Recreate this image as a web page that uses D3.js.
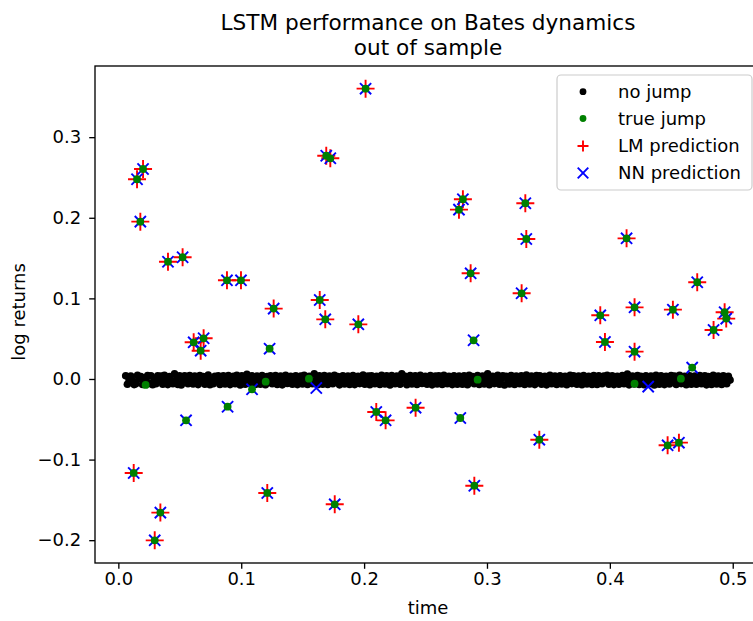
<!DOCTYPE html>
<html>
<head>
<meta charset="utf-8">
<script src="https://cdn.jsdelivr.net/npm/d3@7"></script>
<style>
  html, body { margin: 0; padding: 0; background: #fff; overflow: hidden; }
  svg { display: block; font-family: "DejaVu Sans", sans-serif; }
</style>
</head>
<body>
<svg id="chart" width="753" height="621"></svg>
<script>
// ---------------- data ----------------
const title = ["LSTM performance on Bates dynamics", "out of sample"];
const xLabel = "time";
const yLabel = "log returns";
const xTicks = [0.0, 0.1, 0.2, 0.3, 0.4, 0.5];
const yTicks = [-0.2, -0.1, 0.0, 0.1, 0.2, 0.3];
const legendLabels = ["no jump", "true jump", "LM prediction", "NN prediction"];

// no-jump observations on the time grid
const noJumpStart = 0.006;
const noJumpStep = 0.00137;
const noJumpValues = [
  .004,-.0065,-.001,.0035,-.0015,-.007,-.006,.0045,.000,.003,-.0068,-.002,-.0005,.0042,-.0055,.0038,-.0072,-.001,-.006,.004,
  -.0015,.0035,-.0065,.0045,-.0005,-.007,.003,-.002,-.0058,.0065,-.001,-.0068,.004,-.0075,-.0015,.0038,.000,-.006,.0042,-.002,
  -.0062,.0036,-.001,-.007,.0044,-.0018,.003,-.0066,-.0005,.0048,-.0072,-.0012,-.0058,.0034,-.002,.004,-.0068,.0005,.0038,-.0063,
  -.0015,.0042,-.007,-.0008,.0032,-.006,.0046,-.0022,-.0074,.0038,-.001,-.0065,.0058,-.0016,-.0057,.004,-.0004,-.0069,.0035,-.0019,
  -.0064,.0044,-.0011,-.0071,.0031,-.0017,.0039,-.006,-.0006,.0043,-.0067,-.0021,.0036,-.0073,-.0009,.0047,-.0056,-.0014,.0033,-.0066,
  -.0003,.0041,-.007,-.0018,.0037,-.0062,.0045,-.0008,-.0068,.0032,-.0024,-.0059,.0065,-.0013,-.0071,.0039,-.0006,-.0064,.0043,-.0016,
  -.0069,.0035,-.0002,-.0058,.0046,-.0019,.0031,-.0073,-.001,.004,-.0061,-.0015,.0037,-.0067,-.0007,.0044,-.007,-.0022,.0034,-.0057,
  -.0012,.0048,-.0065,-.0004,.0036,-.0072,.0041,-.0017,-.006,.0033,-.0009,-.0068,.0045,-.002,-.0063,.0038,-.0001,-.0074,.0042,-.0014,
  -.0059,.0037,-.0016,-.0066,.0063,-.0006,.0034,-.0071,-.0019,.0043,-.0062,-.0003,.0039,-.0069,-.0013,.0046,-.0056,-.0021,.0032,-.0065,
  -.0008,.0044,-.0073,-.0015,.0035,-.0061,.004,-.0002,-.0067,.0047,-.0018,-.0058,.0033,-.0011,-.007,.0041,-.0005,-.0064,.0036,-.0023,
  -.0066,.0038,-.0009,-.0072,.0045,-.0014,.0031,-.006,-.0004,.0042,-.0068,-.002,.0037,-.0063,-.0007,.0064,-.0071,-.0016,.0034,-.0057,
  -.0013,.0046,-.0065,-.0001,.0039,-.0074,.0033,-.0019,-.0061,.0044,-.001,-.0069,.0036,-.0022,-.0058,.0041,-.0006,-.0067,.0048,-.0012,
  -.0063,.0035,-.0017,-.007,.0043,-.0005,.0038,-.0066,-.0014,.0032,-.0073,-.0008,.0045,-.006,-.002,.0037,-.0068,-.0003,.004,-.0062,
  -.0011,.0034,-.0071,-.0018,.0047,-.0057,.0039,-.0007,-.0065,.0036,-.0015,-.0072,.0042,-.0009,-.0061,.0033,-.0021,-.0069,.0044,-.0004,
  -.0067,.0041,-.0012,-.0059,.0035,-.0024,.0046,-.0064,-.0002,.0038,-.007,-.0016,.0033,-.0066,-.0006,.0043,-.0058,-.0019,.0062,-.0073,
  -.0009,.0037,-.0062,-.0014,.0044,-.0068,.0032,-.0003,-.0071,.004,-.002,-.006,.0036,-.0008,-.0074,.0045,-.0013,-.0065,.0039,-.0017,
  -.007,.0033,-.0005,-.0063,.0042,-.0011,.0037,-.0069,-.0018,.0046,-.0057,-.0007,.0034,-.0072,-.0015,.004,-.0064,-.0001,.0035,-.0066,
  -.0016,.0043,-.006,-.001,.0038,-.0073,.0031,-.0021,-.0067,.0045,-.0004,-.0062,.0036,-.0012,-.0069,.0041,-.0008,-.0058,.0034,-.0014
];

// true jumps
const trueJumpTime = [0.0125,0.0152,0.0179,0.0201,0.0222,0.0296,0.0342,0.0404,0.0523,0.0551,
  0.0613,0.0670,0.0694,0.0884,0.0889,0.0998,0.1088,0.1199,0.1212,0.1231,
  0.1264,0.1551,0.1639,0.1684,0.1692,0.1725,0.1761,0.1953,0.2012,0.2099,
  0.2175,0.2419,0.2772,0.2783,0.2804,0.2867,0.2891,0.2897,0.2924,0.3282,
  0.3312,0.3320,0.3426,0.3922,0.3960,0.4136,0.4201,0.4201,0.4201,0.4470,
  0.4513,0.4562,0.4578,0.4670,0.4711,0.4844,0.4934,0.4947];
const trueJumpValue = [-0.1166,0.2478,0.1952,0.2605,-0.0074,-0.2002,-0.1658,0.1455,0.1510,-0.0513,
  0.0455,0.0351,0.0505,0.1224,-0.0344,0.1224,-0.0128,-0.0033,-0.1414,0.0376,
  0.0873,0.0004,0.0980,0.0740,0.2770,0.2738,-0.1555,0.0678,0.3602,-0.0409,
  -0.0513,-0.0356,0.2101,-0.0484,0.2230,0.1311,0.0480,-0.1324,-0.0008,0.1063,
  0.2180,0.1737,-0.0753,0.0790,0.0459,0.1745,0.0889,0.0339,-0.0058,-0.0823,
  0.0860,-0.0790,0.0004,0.0141,0.1200,0.0608,0.0828,0.0749];

// LM predictions
const lmTime = [0.0125,0.0152,0.0179,0.0201,0.0296,0.0342,0.0404,0.0523,
  0.0613,0.0670,0.0694,0.0884,0.0998,0.1212,0.1264,0.1639,0.1684,0.1692,0.1725,0.1761,
  0.1953,0.2012,0.2099,0.2175,0.2419,0.2772,0.2804,0.2867,0.2897,0.3282,
  0.3312,0.3320,0.3426,0.3922,0.3960,0.4136,0.4201,0.4201,0.4470,0.4513,
  0.4562,0.4711,0.4844,0.4934,0.4947];
const lmValue = [-0.1166,0.2478,0.1952,0.2605,-0.2002,-0.1658,0.1455,0.1510,
  0.0455,0.0351,0.0505,0.1224,0.1224,-0.1414,0.0873,0.0980,0.0740,0.2770,0.2738,-0.1555,
  0.0678,0.3602,-0.0409,-0.0513,-0.0356,0.2101,0.2230,0.1311,-0.1324,0.1063,
  0.2180,0.1737,-0.0753,0.0790,0.0459,0.1745,0.0889,0.0339,-0.0823,0.0860,
  -0.0790,0.1200,0.0608,0.0828,0.0749];

// NN predictions
const nnTime = [0.0125,0.0152,0.0179,0.0201,0.0296,0.0342,0.0404,0.0523,0.0551,
  0.0613,0.0670,0.0694,0.0884,0.0889,0.0998,0.1088,0.1212,0.1231,0.1264,0.1611,
  0.1639,0.1684,0.1692,0.1725,0.1761,0.1953,0.2012,0.2099,0.2175,0.2419,
  0.2772,0.2783,0.2804,0.2867,0.2891,0.2897,0.3282,0.3312,0.3320,0.3426,
  0.3922,0.3960,0.4136,0.4201,0.4201,0.4312,0.4470,0.4513,0.4562,0.4670,
  0.4711,0.4844,0.4934,0.4947];
const nnValue = [-0.1166,0.2478,0.1952,0.2605,-0.2002,-0.1658,0.1455,0.1510,-0.0513,
  0.0455,0.0351,0.0505,0.1224,-0.0344,0.1224,-0.0128,-0.1414,0.0376,0.0873,-0.0112,
  0.0980,0.0740,0.2770,0.2738,-0.1555,0.0678,0.3602,-0.0409,-0.0513,-0.0356,
  0.2101,-0.0484,0.2230,0.1311,0.0480,-0.1324,0.1063,0.2180,0.1737,-0.0753,
  0.0790,0.0459,0.1745,0.0889,0.0339,-0.0095,-0.0823,0.0860,-0.0790,0.0141,
  0.1200,0.0608,0.0828,0.0749];

// ---------------- drawing ----------------
const svg = d3.select("#chart");
const plot = {left: 95, right: 761, top: 66, bottom: 563};
const FONT = 18;

const x = d3.scaleLinear().domain([-0.019, 0.523]).range([plot.left, plot.right]);
const y = d3.scaleLinear().domain([-0.2283, 0.3883]).range([plot.bottom, plot.top]);

// title
svg.append("text").attr("x", 428).attr("y", 30).attr("text-anchor", "middle")
  .attr("font-size", 21.6).text(title[0]);
svg.append("text").attr("x", 428).attr("y", 55).attr("text-anchor", "middle")
  .attr("font-size", 21.6).text(title[1]);

// axes
const fmt = d3.format(".1f");
const xAxis = svg.append("g").attr("transform", `translate(0,${plot.bottom})`)
  .call(d3.axisBottom(x).tickValues(xTicks).tickFormat(fmt).tickSize(5.8).tickPadding(3.5));
const yAxis = svg.append("g").attr("transform", `translate(${plot.left},0)`)
  .call(d3.axisLeft(y).tickValues(yTicks).tickFormat(fmt).tickSize(5.8).tickPadding(8));
[xAxis, yAxis].forEach(a => {
  a.select(".domain").remove();
  a.selectAll(".tick line").attr("stroke", "#000").attr("stroke-width", 1.33);
  a.selectAll(".tick text").attr("font-size", FONT).attr("font-family", "DejaVu Sans").attr("fill", "#000");
});

svg.append("text").attr("x", 428).attr("y", 614).attr("text-anchor", "middle")
  .attr("font-size", FONT).text(xLabel);
svg.append("text").attr("transform", "translate(25,312) rotate(-90)")
  .attr("text-anchor", "middle").attr("font-size", FONT).text(yLabel);

// marks
const g = svg.append("g");
const noJumpData = noJumpValues.map((v, i) => [noJumpStart + i * noJumpStep, v]);
g.append("g").selectAll("circle").data(noJumpData).join("circle")
  .attr("cx", d => x(d[0])).attr("cy", d => y(d[1])).attr("r", 3.8).attr("fill", "#000");

const plusPath = s => `M${-s},0H${s}M0,${-s}V${s}`;
const crossPath = s => `M${-s},${-s}L${s},${s}M${-s},${s}L${s},${-s}`;

g.append("g").selectAll("path").data(lmTime.map((t, i) => [t, lmValue[i]])).join("path")
  .attr("transform", d => `translate(${x(d[0])},${y(d[1])})`)
  .attr("d", plusPath(9)).attr("stroke", "#ff0000").attr("stroke-width", 1.9).attr("fill", "none");

g.append("g").selectAll("path").data(nnTime.map((t, i) => [t, nnValue[i]])).join("path")
  .attr("transform", d => `translate(${x(d[0])},${y(d[1])})`)
  .attr("d", crossPath(5.6)).attr("stroke", "#0000ff").attr("stroke-width", 1.9).attr("fill", "none");

g.append("g").selectAll("circle").data(trueJumpTime.map((t, i) => [t, trueJumpValue[i]])).join("circle")
  .attr("cx", d => x(d[0])).attr("cy", d => y(d[1])).attr("r", 3.9).attr("fill", "#008000");

// spines
svg.append("rect").attr("x", plot.left).attr("y", plot.top)
  .attr("width", plot.right - plot.left).attr("height", plot.bottom - plot.top)
  .attr("fill", "none").attr("stroke", "#000").attr("stroke-width", 1.33);

// legend
const lg = svg.append("g");
lg.append("rect").attr("x", 557).attr("y", 75).attr("width", 195).attr("height", 115)
  .attr("rx", 4).attr("fill", "#fff").attr("fill-opacity", 0.8)
  .attr("stroke", "#cccccc").attr("stroke-width", 1.2);
const rowY = [91.7, 118.5, 146, 173];
const mx = 583;
lg.append("circle").attr("cx", mx).attr("cy", rowY[0]).attr("r", 3.4).attr("fill", "#000");
lg.append("circle").attr("cx", mx).attr("cy", rowY[1]).attr("r", 3.4).attr("fill", "#008000");
lg.append("path").attr("transform", `translate(${mx},${rowY[2]})`).attr("d", plusPath(5.5))
  .attr("stroke", "#ff0000").attr("stroke-width", 1.9).attr("fill", "none");
lg.append("path").attr("transform", `translate(${mx},${rowY[3]})`).attr("d", crossPath(5.3))
  .attr("stroke", "#0000ff").attr("stroke-width", 1.9).attr("fill", "none");
legendLabels.forEach((l, i) => {
  lg.append("text").attr("x", 618).attr("y", rowY[i]).attr("dy", "0.36em")
    .attr("font-size", FONT).text(l);
});
</script>
</body>
</html>
